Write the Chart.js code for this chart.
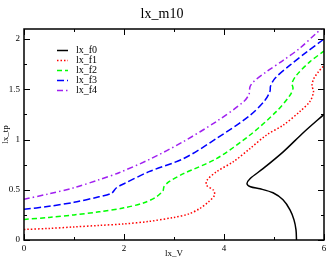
<!DOCTYPE html>
<html>
<head>
<meta charset="utf-8">
<script src="https://cdn.jsdelivr.net/npm/chart.js@4"></script>
<style>
  html, body { margin: 0; padding: 0; background: #fff; }
  #wrap { width: 327px; height: 259px; }
</style>
</head>
<body>
<div id="wrap"><canvas id="c1"></canvas></div>
<script>
// lx_m10 : lx_tp vs lx_V, five curves (f0..f4)
const seriesNames = ['lx_f0', 'lx_f1', 'lx_f2', 'lx_f3', 'lx_f4'];

const f0V = [5.45, 5.44, 5.40, 5.32, 5.18, 4.98, 4.72, 4.53, 4.46, 4.52, 4.78, 5.19, 5.59, 6.0];
const f0T = [0.0, 0.10, 0.20, 0.30, 0.40, 0.47, 0.51, 0.53, 0.56, 0.61, 0.71, 0.88, 1.07, 1.25];

const f1V = [0, 0.5, 1, 1.5, 2, 2.5, 3, 3.3, 3.52, 3.69, 3.81, 3.79, 3.65, 3.66, 3.85, 4.19, 4.52, 4.85, 5.19, 5.52, 5.72, 5.79, 5.76, 5.80, 5.89, 6.0];
const f1T = [0.105, 0.115, 0.13, 0.145, 0.16, 0.185, 0.225, 0.26, 0.315, 0.38, 0.445, 0.495, 0.545, 0.595, 0.68, 0.78, 0.91, 1.045, 1.145, 1.28, 1.38, 1.475, 1.54, 1.61, 1.675, 1.735];

const f2V = [0, 0.5, 1, 1.5, 2.0, 2.4, 2.65, 2.78, 2.8, 2.9, 3.19, 3.85, 4.52, 5.05, 5.32, 5.38, 5.36, 5.45, 5.72, 6.0];
const f2T = [0.205, 0.225, 0.25, 0.28, 0.32, 0.37, 0.43, 0.49, 0.53, 0.58, 0.66, 0.81, 1.045, 1.28, 1.44, 1.51, 1.56, 1.64, 1.775, 1.88];

const f3V = [0, 0.5, 1, 1.5, 1.75, 1.85, 2.0, 2.5, 3.19, 3.85, 4.52, 4.82, 4.92, 4.93, 5.02, 5.32, 5.65, 6.0];
const f3T = [0.305, 0.335, 0.375, 0.43, 0.465, 0.52, 0.56, 0.68, 0.81, 1.01, 1.24, 1.39, 1.48, 1.53, 1.61, 1.74, 1.87, 2.0];

const f4V = [0, 0.5, 1, 1.5, 1.9, 2.5, 3.19, 3.85, 4.39, 4.5, 4.52, 4.59, 4.85, 5.19, 5.52, 5.85, 5.95];
const f4T = [0.405, 0.46, 0.52, 0.60, 0.67, 0.80, 0.98, 1.18, 1.375, 1.45, 1.525, 1.575, 1.675, 1.79, 1.91, 2.06, 2.1];

const xTickValues = [0, 1, 2, 3, 4, 5, 6];
const yTickValues = [0, 0.25, 0.5, 0.75, 1, 1.25, 1.5, 1.75, 2];

const SERIF = '"Liberation Serif", "DejaVu Serif", serif';

function pts(xs, ys) {
    return xs.map((x, i) => ({ x: x, y: ys[i] }));
}

function line(label, xs, ys, color, dash) {
    return {
        label: label,
        data: pts(xs, ys),
        borderColor: color,
        backgroundColor: color,
        borderWidth: 1.5,
        borderDash: dash,
        showLine: true,
        pointRadius: 0,
        tension: 0.3,
        fill: false
    };
}

// inward ticks on all four sides + box frame + legend inside the plot
const frameTicks = {
    id: 'frameTicks',
    afterDatasetsDraw(chart) {
        const ctx = chart.ctx;
        const a = chart.chartArea;
        const xs = chart.scales.x, ys = chart.scales.y;
        ctx.save();
        ctx.strokeStyle = '#000';
        ctx.lineWidth = 1;
        ctx.beginPath();
        xTickValues.forEach(v => {
            const px = Math.round(xs.getPixelForValue(v)) + 0.5;
            const len = v % 2 === 0 ? 6 : 3;
            ctx.moveTo(px, a.bottom); ctx.lineTo(px, a.bottom - len);
            ctx.moveTo(px, a.top); ctx.lineTo(px, a.top + len);
        });
        yTickValues.forEach(v => {
            const py = Math.round(ys.getPixelForValue(v)) + 0.5;
            const len = v % 0.5 === 0 ? 6 : 3;
            ctx.moveTo(a.left, py); ctx.lineTo(a.left + len, py);
            ctx.moveTo(a.right, py); ctx.lineTo(a.right - len, py);
        });
        ctx.stroke();
        ctx.lineWidth = 1.5;
        ctx.strokeRect(a.left, a.top, a.right - a.left, a.bottom - a.top);

        // legend
        ctx.font = '10px ' + SERIF;
        ctx.textBaseline = 'middle';
        ctx.fillStyle = '#000';
        chart.data.datasets.forEach((ds, i) => {
            const y = a.top + 21.5 + 10 * i;
            ctx.beginPath();
            ctx.strokeStyle = ds.borderColor;
            ctx.lineWidth = 1.5;
            ctx.setLineDash(ds.borderDash || []);
            ctx.moveTo(a.left + 33, y);
            ctx.lineTo(a.left + 44, y);
            ctx.stroke();
            ctx.setLineDash([]);
            ctx.fillText(ds.label, a.left + 52, y);
        });
        ctx.restore();
    }
};

new Chart(document.getElementById('c1'), {
    type: 'scatter',
    data: {
        datasets: [
            line(seriesNames[0], f0V, f0T, '#000000', []),
            line(seriesNames[1], f1V, f1T, 'rgb(255,0,0)', [1.5, 2]),
            line(seriesNames[2], f2V, f2T, 'rgb(0,255,0)', [5, 3]),
            line(seriesNames[3], f3V, f3T, 'rgb(0,0,255)', [7, 3]),
            line(seriesNames[4], f4V, f4T, 'rgb(160,32,240)', [6, 3, 1.5, 3])
        ]
    },
    options: {
        responsive: true,
        maintainAspectRatio: false,
        animation: false,
        layout: { padding: { left: 0, right: 3, top: 0, bottom: 0 } },
        plugins: {
            legend: { display: false },
            tooltip: { enabled: false },
            title: {
                display: true,
                text: 'lx_m10',
                color: '#000',
                font: { family: SERIF, size: 14, weight: 'normal' },
                padding: { top: 6, bottom: 6.2 }
            }
        },
        scales: {
            x: {
                type: 'linear',
                min: 0,
                max: 6,
                grid: { display: false, drawTicks: false },
                border: { display: false },
                afterBuildTicks: s => { s.ticks = xTickValues.map(v => ({ value: v })); },
                afterFit: s => { s.height = 19; s.paddingRight = 0; s.paddingLeft = 0; },
                ticks: {
                    autoSkip: false,
                    maxRotation: 0,
                    padding: 3,
                    color: '#000',
                    font: { family: SERIF, size: 9 },
                    callback: v => (v % 2 === 0 ? String(v) : '')
                },
                title: {
                    display: true,
                    text: 'lx_V',
                    color: '#000',
                    font: { family: SERIF, size: 9 },
                    padding: 0
                }
            },
            y: {
                type: 'linear',
                min: 0,
                max: 2.1,
                grid: { display: false, drawTicks: false },
                border: { display: false },
                afterBuildTicks: s => { s.ticks = yTickValues.map(v => ({ value: v })); },
                afterFit: s => { s.width = 24; },
                ticks: {
                    autoSkip: false,
                    padding: 4,
                    color: '#000',
                    font: { family: SERIF, size: 9 },
                    callback: v => (v % 0.5 === 0 ? String(v) : '')
                },
                title: {
                    display: true,
                    text: 'lx_tp',
                    color: '#000',
                    font: { family: SERIF, size: 9 },
                    padding: 0
                }
            }
        }
    },
    plugins: [frameTicks]
});
</script>
</body>
</html>
